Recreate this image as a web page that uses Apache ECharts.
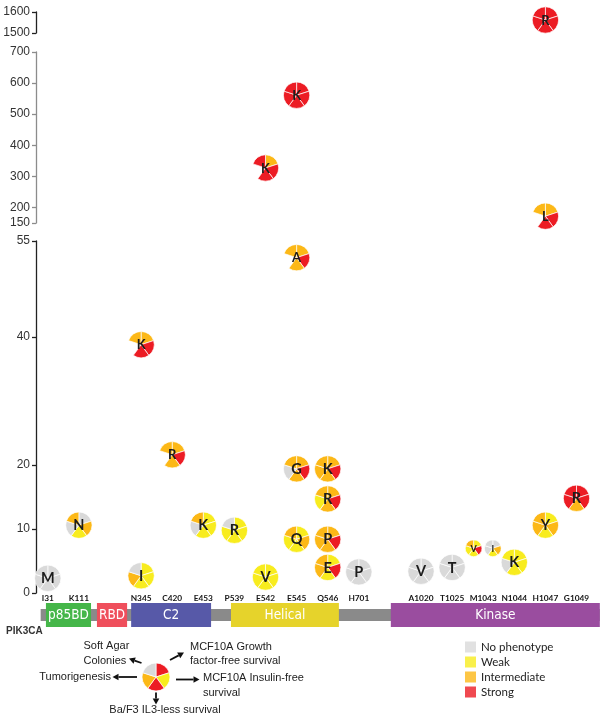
<!DOCTYPE html>
<html><head><meta charset="utf-8">
<script src="https://cdn.jsdelivr.net/npm/echarts@6/dist/echarts.min.js"></script>
<style>html,body{margin:0;padding:0;background:#fff}#c{width:604px;height:721px}</style>
</head><body><div id="c"></div>
<script>
// ---------------- data ----------------
const sites = ['I31','K111','','N345','C420','E453','P539','E542','E545','Q546','H701','','A1020','T1025','M1043','N1044','H1047','G1049'];
const mutSite = ['I31','K111','N345','N345','C420','E453','P539','E542','E542','E545','E545','E545','E545','Q546','Q546','Q546','Q546','H701','A1020','T1025','M1043','M1043','N1044','H1047','H1047','H1047','G1049'];
const mutResidue = ['M','N','I','K','R','K','R','V','K','K','A','G','Q','K','R','P','E','P','V','T','V','I','K','Y','L','R','R'];
const mutValue = [2.3,10.6,2.7,38.8,21.6,10.6,9.8,2.5,327,561,52.4,19.4,8.4,19.4,14.7,8.4,4.0,3.3,3.4,4.0,7.0,7.0,4.8,10.6,172,1562,14.8];
// phenotype scores: 0 none, 1 weak, 2 intermediate, 3 strong, null = not tested
const softAgar      = [0,2,0,2,2,2,0,1,3,3,2,2,2,2,2,2,2,0,0,0,2,0,1,2,2,3,3];
const gfFree        = [0,0,1,2,2,1,1,1,2,3,2,2,1,2,2,2,1,0,0,0,1,0,1,1,2,3,3];
const insulinFree   = [0,2,1,3,3,1,1,1,3,3,3,3,2,3,3,3,3,0,0,0,3,2,1,2,3,3,3];
const baf3          = [0,1,1,3,2,1,1,1,3,3,2,2,1,2,2,2,1,0,0,0,1,1,1,1,3,3,2];
const tumorigenesis = [0,0,2,null,null,0,1,1,null,3,null,0,1,2,1,2,2,0,0,0,1,0,0,2,null,3,3];
const phenoNames = ['No phenotype','Weak','Intermediate','Strong'];
const yTicksLow = [0,10,20,40,55];
const yTicksMid = [150,200,300,400,500,600,700];
const yTicksTop = [1500,1600];
// protein domains (in site-track units)
const domainNames = ['p85BD','RBD','C2','Helical','Kinase'];
const domainStart = [-0.06, 1.58, 2.68, 5.89, 11.03];
const domainEnd   = [1.39, 2.55, 5.25, 9.36, 17.75];
const backbone = [-0.23, 17.75];
const keyLabels = ['MCF10A Growth factor-free survival','MCF10A Insulin-free survival','Ba/F3 IL3-less survival','Tumorigenesis','Soft Agar Colonies'];
const keyScores = [3,1,3,2,0];

// ---------------- styles ----------------
const phenoColors = ['#d9d9d9','#f8ec1e','#fcb817','#ec1c24'];
const domainColors = ['#45b649','#ef4f5c','#5759a8','#e6d32b','#9a4d9f'];
const FONT = 'Lato, "Open Sans", sans-serif';
const AX_FONT = '"Liberation Sans", Arial, sans-serif';

// pairs of mutations at the same site and same value are drawn side by side
const pairSide = mutValue.map((v, i) => {
  for (let j = 0; j < mutValue.length; j++) {
    if (j !== i && mutSite[j] === mutSite[i] && Math.abs(mutValue[j] - v) < 0.5) return j > i ? -1 : 1;
  }
  return 0;
});

function renderPie(params, api) {
  const i = api.value(2);
  const c = api.coord([api.value(0), api.value(1)]);
  const side = pairSide[i];
  const r = side ? 8.3 : 13.2;
  const cx = c[0] + side * (r + 1.3);
  const cy = c[1];
  const scores = [gfFree[i], insulinFree[i], baf3[i], tumorigenesis[i], softAgar[i]];
  const children = [];
  const step = 2 * Math.PI / 5;
  scores.forEach((s, k) => {
    if (s === null || s === undefined) return;
    const a0 = -Math.PI / 2 + k * step;
    children.push({
      type: 'sector',
      shape: {cx: cx, cy: cy, r: r, r0: 0, startAngle: a0, endAngle: a0 + step, clockwise: true},
      style: {fill: phenoColors[s], stroke: '#ffffff', lineWidth: 0.7}
    });
  });
  const fs = side ? 9 : (mutValue[i] > 20 ? 13 : 14.5);
  children.push({
    type: 'text',
    style: {text: mutResidue[i], x: cx, y: cy + 0.5, align: 'center', verticalAlign: 'middle',
      fontFamily: FONT, fontWeight: 'bold', fontSize: fs, fill: '#1c1c1c'}
  });
  return {type: 'group', children: children};
}

function renderDomain(params, api) {
  const i = api.value(2);
  const p0 = api.coord([api.value(0), 1]);
  const p1 = api.coord([api.value(1), 0]);
  return {type: 'group', children: [
    {type: 'rect', shape: {x: p0[0], y: p0[1], width: p1[0] - p0[0], height: p1[1] - p0[1]}, style: {fill: domainColors[i]}},
    {type: 'text', style: {text: domainNames[i], x: (p0[0] + p1[0]) / 2, y: (p0[1] + p1[1]) / 2 + 0.5,
      align: 'center', verticalAlign: 'middle', fill: '#ffffff',
      fontFamily: '"Liberation Sans Narrow", "DejaVu Sans Condensed", "Liberation Sans", sans-serif', fontSize: 13.5}}
  ]};
}

function renderBackbone(params, api) {
  const p0 = api.coord([api.value(0), 0.75]);
  const p1 = api.coord([api.value(1), 0.25]);
  return {type: 'rect', shape: {x: p0[0], y: p0[1], width: p1[0] - p0[0], height: p1[1] - p0[1]}, style: {fill: '#8a8a8a'}};
}

// ---------------- layout ----------------
const L = 47.8, R = 27.5;
const grids = [
  {left: L, right: R, top: 12, height: 21},
  {left: L, right: R, top: 52, height: 171},
  {left: L, right: R, top: 241, height: 352},
  {left: L, right: R, top: 603, height: 24}
];
function catAxis(g, showLabels) {
  return {type: 'category', gridIndex: g, data: sites, boundaryGap: false,
    axisLine: {show: false}, axisTick: {show: false}, splitLine: {show: false},
    axisLabel: {show: showLabels, interval: 0, margin: 1, fontFamily: FONT, fontWeight: 'bold', fontSize: 8.3, color: '#151515'}};
}
function valAxis(g, min, max, ticks, color) {
  return {type: 'value', gridIndex: g, min: min, max: max, offset: L - 36,
    axisLine: {show: true, lineStyle: {color: color, width: 1.3}},
    axisTick: {show: true, length: 4, customValues: ticks, lineStyle: {color: color, width: 1.3}},
    axisLabel: {customValues: ticks, margin: 6, fontFamily: AX_FONT, fontSize: 12, color: '#333', formatter: v => String(v)},
    splitLine: {show: false}};
}

const pieSegments = [{g: 0, lo: 1500, hi: 1600}, {g: 1, lo: 150, hi: 700}, {g: 2, lo: 0, hi: 55}];
const pieSeries = pieSegments.map(s => ({
  type: 'custom', xAxisIndex: s.g, yAxisIndex: s.g, renderItem: renderPie, clip: false, silent: true, z: 5,
  encode: {x: 0, y: 1},
  data: mutValue.map((v, i) => [sites.indexOf(mutSite[i]), v, i]).filter(d => d[1] >= s.lo && d[1] <= s.hi)
}));

const legendSeries = phenoNames.map((n, k) => ({
  type: 'scatter', name: n, xAxisIndex: 2, yAxisIndex: 2, data: [], itemStyle: {color: phenoColors[k]}
}));

function arrow(x1, y1, x2, y2) {
  const a = Math.atan2(y2 - y1, x2 - x1), hl = 6, hw = 3.3;
  const bx = x2 - hl * Math.cos(a), by = y2 - hl * Math.sin(a);
  return [
    {type: 'line', shape: {x1: x1, y1: y1, x2: bx, y2: by}, style: {stroke: '#111', lineWidth: 1.8}},
    {type: 'polygon', shape: {points: [[x2, y2], [bx + hw * Math.sin(a), by - hw * Math.cos(a)], [bx - hw * Math.sin(a), by + hw * Math.cos(a)]]}, style: {fill: '#111'}}
  ];
}
const keyText = (t, x, y, align) => ({type: 'text', style: {text: t, x: x, y: y, align: align || 'left', verticalAlign: 'middle',
  fontFamily: AX_FONT, fontSize: 11, fill: '#222', lineHeight: 14.5}});

const graphics = [].concat(
  arrow(141.5, 663, 129, 658.5),
  arrow(170, 660, 184, 652.5),
  arrow(137, 677, 112.5, 677),
  arrow(176, 679.5, 199.5, 679.5),
  arrow(156, 692.5, 156, 704.5),
  [
    keyText('Soft Agar\nColonies', 83.5, 653.5),
    keyText('MCF10A Growth\nfactor-free survival', 190, 654),
    keyText('Tumorigenesis', 111, 677, 'right'),
    keyText('MCF10A Insulin-free\nsurvival', 203, 685.5),
    keyText('Ba/F3 IL3-less survival', 165, 710, 'center'),
    {type: 'text', style: {text: 'PIK3CA', x: 6, y: 631, verticalAlign: 'middle', fontFamily: AX_FONT, fontWeight: 'bold', fontSize: 10, fill: '#333'}}
  ]
);

const option = {
  animation: false,
  backgroundColor: '#ffffff',
  grid: grids,
  xAxis: [catAxis(0, false), catAxis(1, false), catAxis(2, true),
    {type: 'value', gridIndex: 3, min: 0, max: sites.length - 1, show: false}],
  yAxis: [valAxis(0, 1500, 1600, yTicksTop, '#222'), valAxis(1, 150, 700, yTicksMid, '#8c8c8c'), valAxis(2, 0, 55, yTicksLow, '#222'),
    {type: 'value', gridIndex: 3, min: 0, max: 1, show: false}],
  legend: {orient: 'vertical', left: 465, top: 641, padding: 0, icon: 'rect', itemWidth: 11, itemHeight: 11, itemGap: 3,
    selectedMode: false, data: phenoNames, textStyle: {fontFamily: FONT, fontSize: 11.5, lineHeight: 12, color: '#222'}},
  graphic: graphics,
  series: [
    {type: 'custom', xAxisIndex: 3, yAxisIndex: 3, renderItem: renderBackbone, clip: false, silent: true, z: 2,
      encode: {x: [0, 1]}, data: [[backbone[0], backbone[1]]]},
    {type: 'custom', xAxisIndex: 3, yAxisIndex: 3, renderItem: renderDomain, clip: false, silent: true, z: 3,
      encode: {x: [0, 1]}, data: domainNames.map((n, i) => [domainStart[i], domainEnd[i], i])},
    {type: 'pie', center: [156, 677], radius: 14, startAngle: 90, clockwise: true, silent: true, z: 4,
      label: {show: false}, labelLine: {show: false},
      itemStyle: {borderColor: '#fff', borderWidth: 0.7},
      data: keyLabels.map((n, k) => ({name: n, value: 1, itemStyle: {color: phenoColors[keyScores[k]]}}))}
  ].concat(pieSeries, legendSeries)
};
const chart = echarts.init(document.getElementById('c'));
chart.setOption(option);
</script></body></html>
